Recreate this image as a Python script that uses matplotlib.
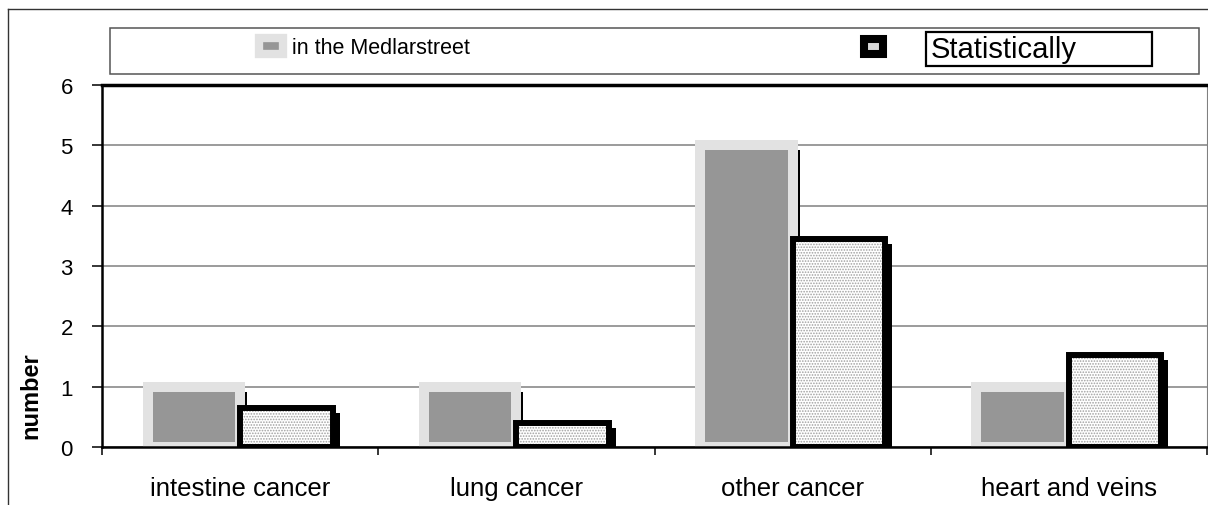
import numpy as np
import matplotlib
matplotlib.use("Agg")
import matplotlib.pyplot as plt
import matplotlib.patches as mpatches
import matplotlib.patheffects as pe
from matplotlib.lines import Line2D

categories = ["intestine cancer", "lung cancer", "other cancer", "heart and veins"]
medlarstreet = [1, 1, 5, 1]
statistically = [0.65, 0.4, 3.45, 1.52]
yticks = [0, 1, 2, 3, 4, 5, 6]

plt.rcParams["font.family"] = ["Liberation Sans", "DejaVu Sans"]
plt.rcParams["hatch.linewidth"] = 0.8

W, H = 1208, 506
fig = plt.figure(figsize=(W / 100, H / 100), dpi=100)
ax = fig.add_axes([102 / W, (H - 448) / H, (1207 - 102) / W, (448 - 86) / H])

x = np.arange(len(categories))
w = 0.335
shadow = [pe.SimplePatchShadow(offset=(5, -3.6), shadow_rgbFace="black", alpha=1, hatch=None), pe.Normal()]

# grey bars with light border
ax.bar(x - w / 2, medlarstreet, w, color="#969696", edgecolor="#e2e2e2", lw=7.2,
       zorder=2, path_effects=shadow)
# dotted fill, then black border on top
ax.bar(x + w / 2, statistically, w, facecolor="white", edgecolor="#a0a0a0", hatch="......",
       lw=0, zorder=3, path_effects=shadow)
ax.bar(x + w / 2, statistically, w, fill=False, edgecolor="black", lw=4.3, zorder=4)

ax.set_xlim(-0.5, 3.5)
ax.set_ylim(0, 6)
ax.set_yticks(yticks)
ax.set_yticklabels([str(v) for v in yticks], fontsize=16)
ax.set_xticks(x)
ax.set_xticklabels(categories, fontsize=18.5)
ax.set_xticks(np.arange(-0.5, 4, 1), minor=True)
ax.tick_params(axis="x", which="major", length=0, pad=21)
ax.tick_params(axis="x", which="minor", length=6, width=1.1, direction="out")
ax.tick_params(axis="y", length=7, width=1.1, direction="out", pad=14)

ax.yaxis.grid(True, color="#808080", lw=1.1)
ax.set_axisbelow(True)
for side in ["left", "bottom"]:
    ax.spines[side].set_linewidth(1.8)
    ax.spines[side].set_color("black")
ax.spines["top"].set_linewidth(2.5)
ax.spines["right"].set_linewidth(0.8)
ax.spines["right"].set_color("#808080")

ax.set_ylabel("number", fontweight="bold", fontsize=17)
ax.yaxis.set_label_coords(-0.0543, 0.1436)

# legend
h1 = mpatches.Patch(facecolor="#969696", edgecolor="#e2e2e2", lw=6)
h2 = mpatches.Patch(facecolor="#d9d9d9", edgecolor="black", lw=5.8)
leg1 = fig.legend(handles=[h1], labels=["in the Medlarstreet"], loc="center left",
                  bbox_to_anchor=(259 / W, 1 - 49 / H), frameon=False, borderpad=0,
                  borderaxespad=0, handlelength=1.1, handleheight=0.75, handletextpad=0.45,
                  prop={"size": 15.5})
leg2 = fig.legend(handles=[h2], labels=["Statistically"], loc="center left",
                  bbox_to_anchor=(864 / W, 1 - 50 / H), frameon=False, borderpad=0,
                  borderaxespad=0, handlelength=0.65, handleheight=0.42, handletextpad=1.65,
                  prop={"size": 21})
fig.add_artist(mpatches.Rectangle((926 / W, 1 - 67 / H), 226 / W, 34 / H, transform=fig.transFigure,
                                  fill=False, ec="black", lw=1.6))
fig.add_artist(mpatches.Rectangle((110 / W, 1 - 75 / H), 1089 / W, 46 / H, transform=fig.transFigure,
                                  fill=False, ec="#555555", lw=1.1))

# outer frame
fig.add_artist(Line2D([8 / W, 1], [1 - 10 / H, 1 - 10 / H], transform=fig.transFigure, color="#333333", lw=1))
fig.add_artist(Line2D([8 / W, 8 / W], [1 - 10 / H, 0], transform=fig.transFigure, color="#333333", lw=1))

fig.savefig("out.png", dpi=100)
